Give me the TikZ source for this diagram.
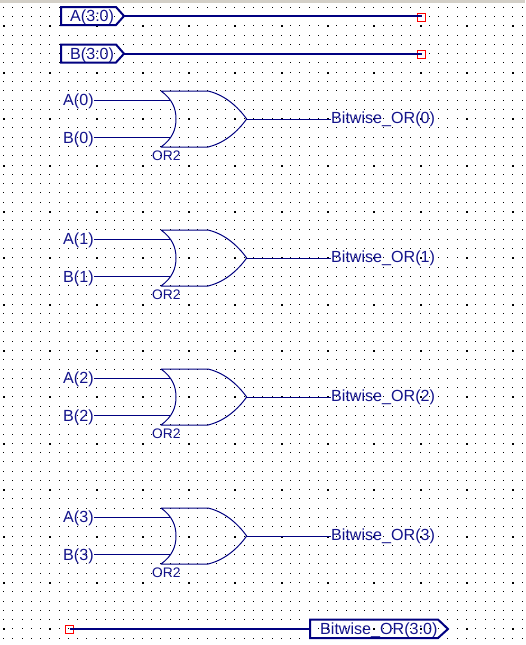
\documentclass[tikz,border=0pt]{standalone}
\usepackage{fontspec}
\setmainfont{Liberation Sans}
\definecolor{wire}{RGB}{0,0,128}
\definecolor{label}{RGB}{20,20,140}
\definecolor{band}{RGB}{212,208,200}
\tikzset{
  x=1pt,y=-1pt,
  sig/.style={inner sep=0pt,anchor=west,text=label,font=\fontsize{16.1}{18}\selectfont},
  gatename/.style={inner sep=0pt,anchor=west,text=label,font=\fontsize{13.8}{15}\selectfont},
  bus/.style={draw=wire,line width=2pt},
  thin wire/.style={draw=wire,line width=1pt},
  gate line/.style={draw=wire,line width=1pt,line join=round},
  pin/.style={draw=red,line width=1pt,fill=none,minimum size=8pt,inner sep=0pt,shape=rectangle},
}
\begin{document}
\begin{tikzpicture}
\useasboundingbox (0,0) rectangle (525,645);
\fill[white] (0,0) rectangle (525,645);
\fill[band] (0,0) rectangle (525,2.5);
% sheet grid
\foreach \i in {0,...,56}{
  \foreach \j in {0,...,68}{
    \pgfmathtruncatemacro{\px}{floor(3.5+9.26*\i)}
    \pgfmathtruncatemacro{\py}{floor(7.3+9.277*\j)}
    \pgfmathtruncatemacro{\bold}{(mod(\i,5)==0 && mod(\j,5)==2) ? 2 : 1}
    \fill[black] (\px,\py) rectangle (\px+\bold,\py+\bold);
  }
}
% top buses
\node[sig] (la) at (70,17) {A(3:0)};
\node[sig] (lb) at (70,55) {B(3:0)};
\coordinate (atip) at (124,16);
\coordinate (btip) at (124,53.7);
\draw[bus,line join=miter] (61,7) -- (116,7) -- (atip) -- (116,25) -- (61,25) -- cycle;
\draw[bus,line join=miter] (61,44.5) -- (116,44.5) -- (btip) -- (116,62.5) -- (61,62.5) -- cycle;
\node[pin] (pa) at (421.5,17) {};
\node[pin] (pb) at (421.5,54) {};
\draw[bus] (atip) -- (pa.west |- atip) -- (pa.center |- atip);
\draw[bus] (btip) -- (pb.center |- btip);
% gates
\foreach \n/\dy in {0/0,1/139,2/278,3/417}{
  \begin{scope}[yshift=-\dy pt]
    \node[sig] (a\n) at (63,101.5) {A(\n)};
    \node[sig] (b\n) at (63,139) {B(\n)};
    \coordinate (ia\n) at (170,100.5);
    \coordinate (ib\n) at (170,137.5);
    \coordinate (tip\n) at (246.7,119);
    \draw[gate line] (161,91) -- (208,91) .. controls (225,95) and (238,107) .. (tip\n)
      .. controls (238,131) and (225,143) .. (208,147) -- (161,147)
      .. controls (172,139) and (176,130) .. (176,119)
      .. controls (176,108) and (172,99) .. (161,91);
    \node[gatename] (g\n) at (152,156) {OR2};
    \node[sig] (o\n) at (331,119.5) {Bitwise\_OR(\n)};
    \draw[thin wire] (a\n.east |- ia\n) -- (ia\n);
    \draw[thin wire] (b\n.east |- ib\n) -- (ib\n);
    \draw[thin wire] (tip\n) -- (o\n.west |- tip\n);
  \end{scope}
}
% output bus
\coordinate (otip) at (448,629);
\node[sig] (lo) at (320,630) {Bitwise\_OR(3:0)};
\node[pin] (po) at (69.5,629) {};
\coordinate (oleft) at (310,629);
\draw[bus,line join=miter] (oleft) -- (310,619.5) -- (438,619.5) -- (otip) -- (438,638) -- (310,638) -- cycle;
\draw[bus] (po.center) -- (oleft);
\end{tikzpicture}
\end{document}
